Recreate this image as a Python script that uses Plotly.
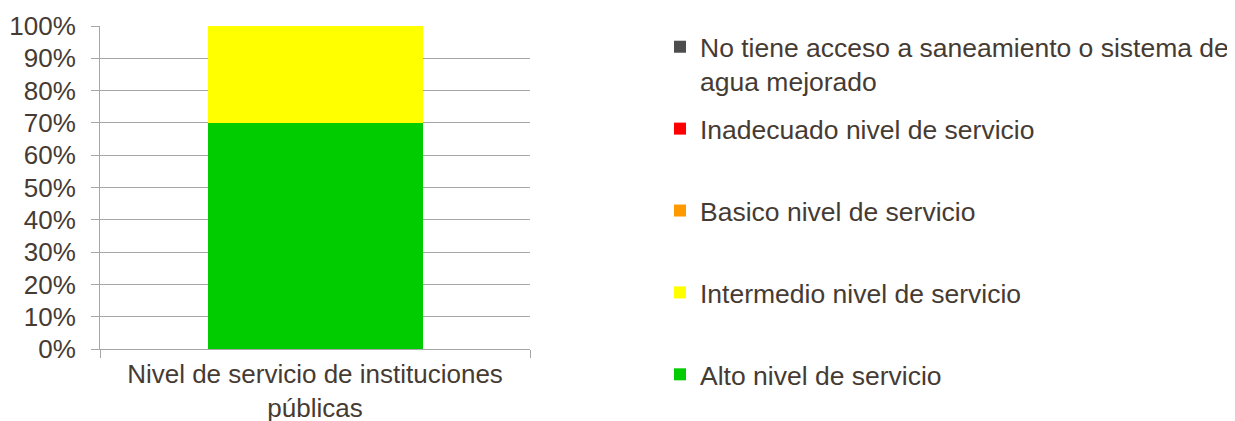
import plotly.graph_objects as go

categories = ["Nivel de servicio de instituciones<br>públicas"]
series_names = [
    "Alto nivel de servicio",
    "Intermedio nivel de servicio",
    "Basico nivel de servicio",
    "Inadecuado nivel de servicio",
    "No tiene acceso a saneamiento o sistema de<br>agua mejorado",
]
series_values = [
    [0.70],
    [0.30],
    [0.0],
    [0.0],
    [0.0],
]
series_colors = ["#00cc00", "#ffff00", "#ff9900", "#ff0000", "#4d4d4d"]
y_ticks = [i / 10 for i in range(11)]

TEXT = "#463b33"
FONT = "Liberation Sans, Arial, sans-serif"
# the page body adds an 8px margin, so the figure is sized to fit the window
W, H = 1227, 413

fig = go.Figure()
n = len(series_names)
for i, (name, vals, col) in enumerate(zip(series_names, series_values, series_colors)):
    # pad single-line entries to two lines so every legend slot is equal
    label = name if ("<br>" in name or i == 0) else name + "<br>\u00a0"
    fig.add_trace(go.Bar(
        x=categories, y=vals, name=label, marker_color=col,
        marker_line_width=0, legendgroup=f"g{i}", legendrank=n - i,
        hoverinfo="skip",
    ))

fig.update_layout(
    width=W, height=H,
    barmode="stack", bargap=0.5,
    plot_bgcolor="white", paper_bgcolor="white",
    margin=dict(l=92, r=W - 522, t=18, b=H - 341, autoexpand=False),
    font=dict(family=FONT, size=26, color=TEXT),
    showlegend=True,
    legend=dict(
        traceorder="grouped", valign="top",
        xref="container", yref="container",
        x=652 / W, xanchor="left", y=1 - 15 / H, yanchor="top",
        tracegroupgap=10, font=dict(family=FONT, size=26.5, color=TEXT),
        bgcolor="rgba(0,0,0,0)", maxheight=600,
    ),
    xaxis=dict(
        automargin=False,
        showline=True, linecolor="#a6a6a6", linewidth=1,
        ticks="outside", tickson="boundaries", ticklen=8, tickcolor="#a6a6a6",
        showgrid=False, tickfont=dict(size=26, color=TEXT),
        ticklabelstandoff=2,
    ),
    yaxis=dict(
        automargin=False,
        range=[0, 1], tickvals=y_ticks, tickformat=".0%",
        showline=True, linecolor="#a6a6a6", linewidth=1,
        ticks="outside", ticklen=8, tickcolor="#a6a6a6",
        showgrid=True, gridcolor="#a6a6a6", gridwidth=1,
        zeroline=False, tickfont=dict(size=26, color=TEXT),
        ticklabelstandoff=10,
    ),
)

fig.write_html("out.html")
